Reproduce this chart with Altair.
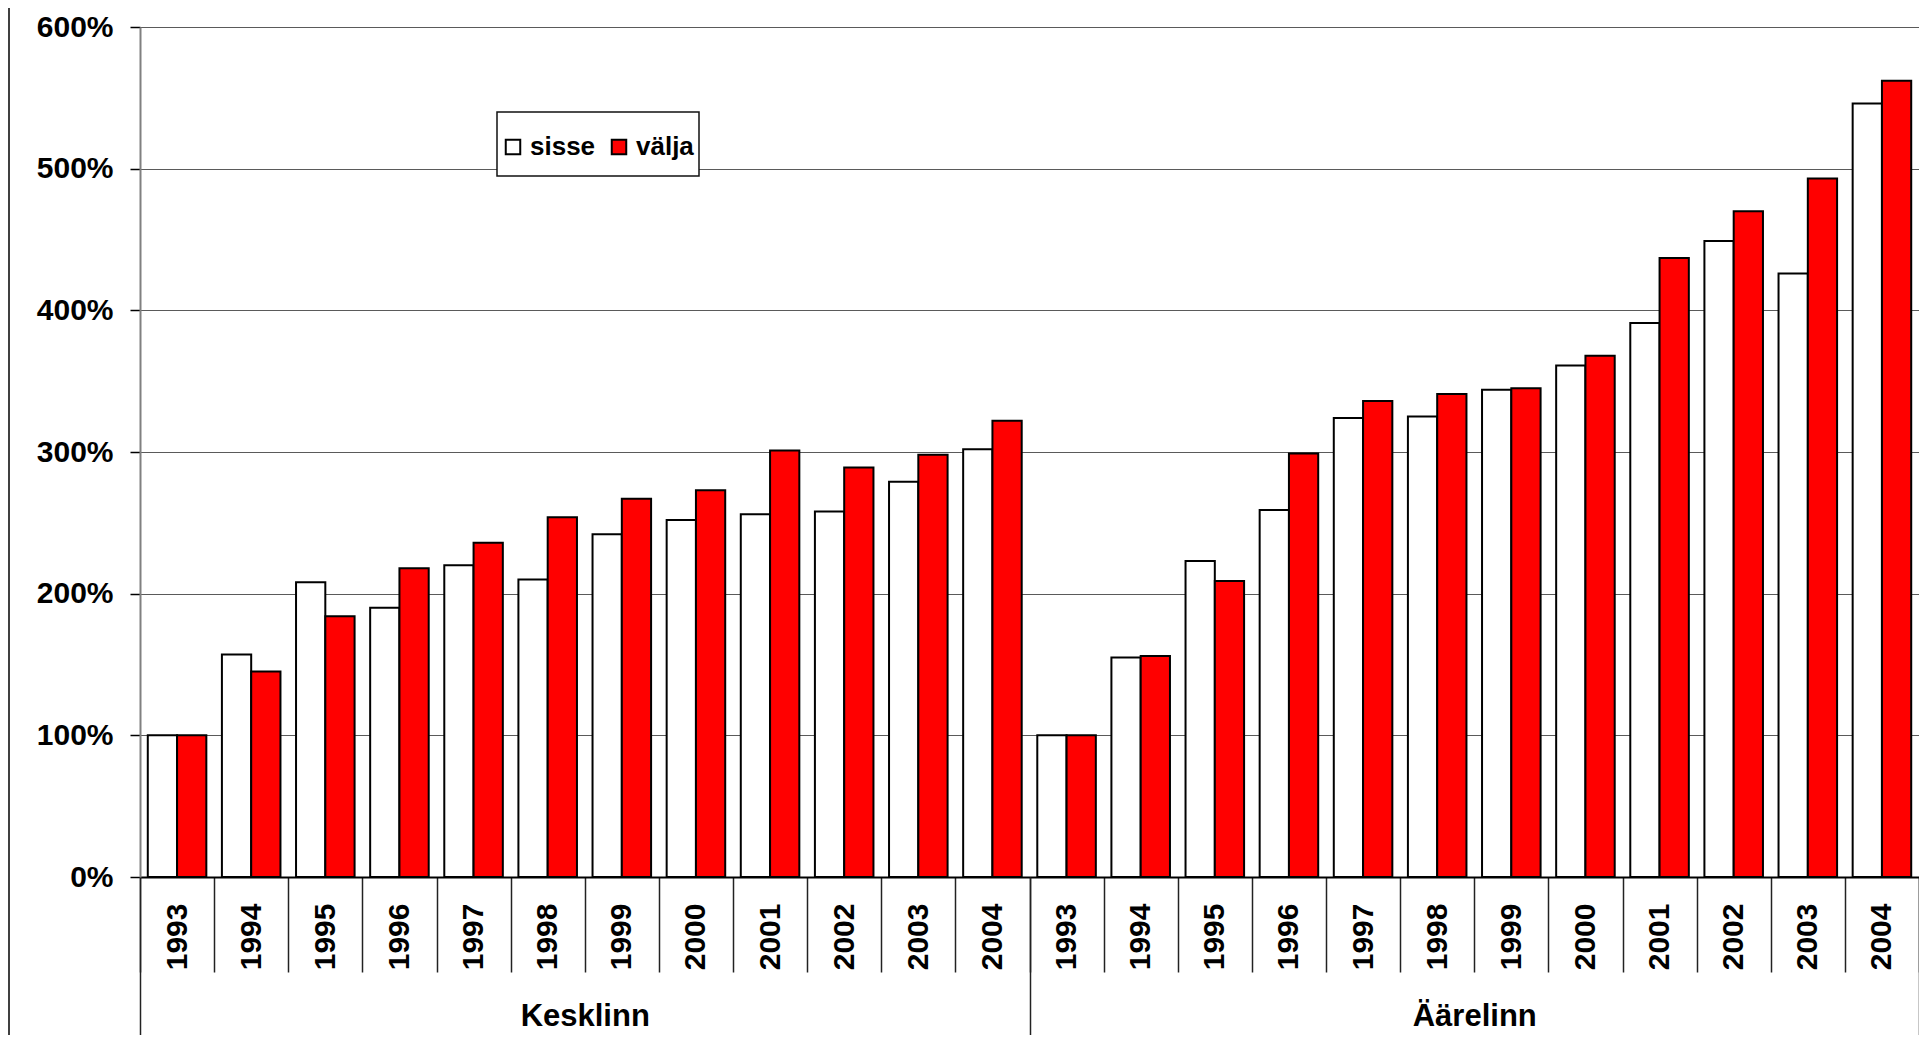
import altair as alt
import pandas as pd

years = ["1993", "1994", "1995", "1996", "1997", "1998", "1999", "2000", "2001", "2002", "2003", "2004"]
groups = ["Kesklinn", "Äärelinn"]
series = ["sisse", "välja"]

kesk_sisse = [100, 157, 208, 190, 220, 210, 242, 252, 256, 258, 279, 302]
kesk_valja = [100, 145, 184, 218, 236, 254, 267, 273, 301, 289, 298, 322]
aare_sisse = [100, 155, 223, 259, 324, 325, 344, 361, 391, 449, 426, 546]
aare_valja = [100, 156, 209, 299, 336, 341, 345, 368, 437, 470, 493, 562]

y_ticks = [0, 100, 200, 300, 400, 500, 600]

rows = []
for g, s_vals, v_vals in [(groups[0], kesk_sisse, kesk_valja), (groups[1], aare_sisse, aare_valja)]:
    for yr, a, b in zip(years, s_vals, v_vals):
        rows.append({"key": f"{g} {yr}", "group": g, "year": yr, "series": series[0], "value": a})
        rows.append({"key": f"{g} {yr}", "group": g, "year": yr, "series": series[1], "value": b})
df = pd.DataFrame(rows)
keys = [f"{g} {yr}" for g in groups for yr in years]

FONT = "Liberation Sans"

# legend frame (white box behind the legend entries)
legend_box = alt.Chart(alt.Data(values=[{"a": 1}])).mark_rect(
    fill="white", stroke="#111111", strokeWidth=1.5
).encode(x=alt.value(357), x2=alt.value(559), y=alt.value(85), y2=alt.value(149))

bars = alt.Chart(df).mark_bar(stroke="black", strokeWidth=2).encode(
    x=alt.X(
        "key:N", sort=keys,
        scale=alt.Scale(paddingInner=0, paddingOuter=0),
        axis=alt.Axis(
            title=None, labelExpr="split(datum.label, ' ')[1]", labelAngle=270,
            tickBand="extent", tickSize=95, tickColor="#222222", tickWidth=1.5,
            labelPadding=-69, labelFontSize=30, labelFontWeight="bold", labelColor="black",
            labelFont=FONT, domainColor="black", domainWidth=2, grid=False,
        ),
    ),
    xOffset=alt.XOffset("series:N", sort=series, scale=alt.Scale(paddingInner=0, paddingOuter=0.266)),
    y=alt.Y(
        "value:Q",
        scale=alt.Scale(domain=[0, 600]),
        axis=alt.Axis(
            title=None, values=y_ticks, labelExpr="datum.value + '%'",
            labelFontSize=30, labelFontWeight="bold", labelColor="black", labelFont=FONT,
            labelPadding=17, tickSize=10, tickColor="black", tickWidth=1.5,
            domainColor="#808080", domainWidth=2,
            grid=True, gridColor="#5a5a5a", gridWidth=1,
        ),
    ),
    color=alt.Color(
        "series:N", sort=series,
        scale=alt.Scale(domain=series, range=["#ffffff", "#ff0000"]),
        legend=alt.Legend(
            title=None, orient="none", legendX=360, legendY=107, direction="horizontal",
            padding=0,
            symbolType="square", symbolSize=210, symbolStrokeColor="black", symbolStrokeWidth=2,
            labelFont=FONT, labelFontSize=26, labelFontWeight="bold", labelColor="black",
            labelOffset=4, columnPadding=10,
        ),
    ),
)

grp = alt.Chart(pd.DataFrame({"group": groups})).mark_point(opacity=0).encode(
    x=alt.X(
        "group:N", sort=groups,
        scale=alt.Scale(paddingInner=0, paddingOuter=0),
        axis=alt.Axis(
            orient="bottom", title=None, tickBand="extent", tickSize=160,
            tickColor="#222222", tickWidth=1.5, domain=False, grid=False,
            labelPadding=-36, labelFontSize=31, labelFontWeight="bold", labelAngle=0,
            labelColor="black", labelFont=FONT,
        ),
    ),
    y=alt.value(0),
)

border = alt.Chart(alt.Data(values=[{"a": 1}])).mark_rule(color="black", strokeWidth=1.5).encode(
    x=alt.value(-131), y=alt.value(-19), y2=alt.value(1010)
)

chart = (
    alt.layer(legend_box, bars, grp, border)
    .resolve_scale(x="independent")
    .properties(
        width=1779, height=850,
        padding={"left": 132, "top": 19, "right": 0, "bottom": 158},
        autosize=alt.AutoSizeParams(type="none"),
        background="white",
    )
    .configure_view(fill="#c5d3f2", stroke="#808080", strokeWidth=2)
    .configure(font=FONT)
)

chart.save("out.html", embed_options={"renderer": "svg", "actions": False})
